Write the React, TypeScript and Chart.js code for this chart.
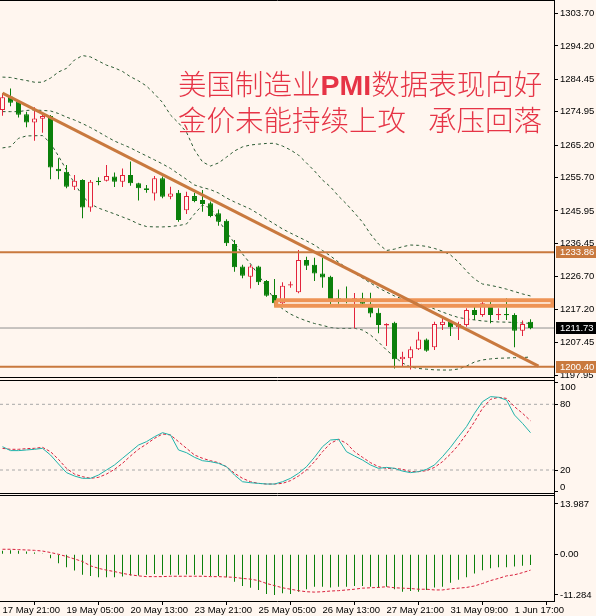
import React, { useEffect, useRef } from 'react';
import { Chart, registerables } from 'chart.js';

Chart.register(...registerables);

// ---------------- data ----------------
const TIMES = [
  '17 May 21:00', '18 May 01:00', '18 May 05:00', '18 May 09:00', '18 May 13:00', '18 May 17:00', '18 May 21:00', '19 May 01:00',
  '19 May 05:00', '19 May 09:00', '19 May 13:00', '19 May 17:00', '19 May 21:00', '20 May 01:00', '20 May 05:00', '20 May 09:00',
  '20 May 13:00', '20 May 17:00', '20 May 21:00', '23 May 01:00', '23 May 05:00', '23 May 09:00', '23 May 13:00', '23 May 17:00',
  '23 May 21:00', '24 May 01:00', '24 May 05:00', '24 May 09:00', '24 May 13:00', '24 May 17:00', '24 May 21:00', '25 May 01:00',
  '25 May 05:00', '25 May 09:00', '25 May 13:00', '25 May 17:00', '25 May 21:00', '26 May 01:00', '26 May 05:00', '26 May 09:00',
  '26 May 13:00', '26 May 17:00', '26 May 21:00', '27 May 01:00', '27 May 05:00', '27 May 09:00', '27 May 13:00', '27 May 17:00',
  '27 May 21:00', '30 May 05:00', '30 May 09:00', '30 May 13:00', '30 May 17:00', '30 May 21:00', '31 May 01:00', '31 May 05:00',
  '31 May 09:00', '31 May 13:00', '31 May 17:00', '31 May 21:00', '1 Jun 01:00', '1 Jun 05:00', '1 Jun 09:00', '1 Jun 13:00',
  '1 Jun 17:00', '1 Jun 21:00', '2 Jun 01:00',
];

const OPEN = [
  1275.5, 1279.4, 1278.0, 1274.2, 1271.8, 1272.9, 1273.7, 1258.3, 1257.4, 1253.05,
  1255.0, 1247.0, 1254.8, 1254.8, 1256.0, 1254.5, 1256.5, 1254.05, 1252.6, 1251.1,
  1255.5, 1250.1, 1251.3, 1246.2, 1250.3, 1249.2, 1248.2, 1245.3, 1243.1, 1236.3,
  1229.7, 1226.7, 1229.7, 1225.5, 1221.4, 1219.0, 1224.2, 1222.2, 1231.6, 1230.2,
  1227.7, 1226.7, 1220.4, 1220.3, 1220.1, 1220.4, 1218.8, 1216.2, 1212.5, 1213.3,
  1202.6, 1202.9, 1205.5, 1208.4, 1206.1, 1212.6, 1213.6, 1211.95, 1212.6, 1217.0,
  1215.55, 1218.75, 1215.5, 1215.8, 1215.55, 1210.95, 1213.6,
];
const HIGH = [
  1280.4, 1281.8, 1278.4, 1275.0, 1276.3, 1274.0, 1274.0, 1261.4, 1259.4, 1256.5,
  1255.2, 1255.0, 1255.8, 1259.4, 1257.2, 1258.4, 1260.4, 1254.2, 1253.55, 1256.2,
  1256.0, 1253.05, 1252.1, 1251.6, 1251.3, 1252.1, 1248.7, 1246.4, 1243.5, 1237.5,
  1230.2, 1230.2, 1229.95, 1225.8, 1226.1, 1225.1, 1225.3, 1234.55, 1232.6, 1232.3,
  1232.3, 1227.0, 1223.0, 1223.9, 1222.0, 1222.05, 1222.05, 1217.5, 1213.1, 1213.6,
  1204.8, 1206.3, 1210.65, 1208.7, 1213.6, 1215.0, 1214.05, 1213.6, 1217.5, 1218.0,
  1219.4, 1219.7, 1217.5, 1220.4, 1216.05, 1213.9, 1214.3,
];
const LOW = [
  1273.8, 1276.6, 1273.3, 1270.4, 1266.5, 1268.8, 1255.2, 1255.2, 1252.6, 1252.1,
  1243.8, 1245.7, 1253.5, 1254.6, 1253.0, 1253.0, 1253.3, 1249.0, 1251.3, 1249.0,
  1249.7, 1249.4, 1242.8, 1245.1, 1248.5, 1245.7, 1244.1, 1241.6, 1235.7, 1228.2,
  1226.3, 1223.3, 1224.3, 1220.9, 1218.0, 1218.0, 1223.5, 1221.9, 1228.7, 1225.5,
  1223.5, 1218.5, 1218.8, 1219.0, 1211.65, 1218.5, 1214.9, 1210.2, 1206.5, 1199.9,
  1200.4, 1199.6, 1205.3, 1204.8, 1205.3, 1211.15, 1209.4, 1208.2, 1212.1, 1214.05,
  1215.05, 1213.1, 1214.05, 1214.05, 1206.1, 1209.4, 1211.4,
];
const CLOSE = [
  1279.2, 1277.6, 1274.1, 1271.8, 1273.0, 1273.7, 1258.7, 1257.6, 1253.05, 1254.8,
  1247.0, 1254.5, 1254.4, 1256.2, 1254.5, 1256.5, 1254.05, 1252.6, 1252.1, 1255.5,
  1250.1, 1251.1, 1243.3, 1250.3, 1248.9, 1248.0, 1244.5, 1242.8, 1236.5, 1229.5,
  1227.0, 1229.7, 1225.1, 1221.2, 1219.0, 1224.1, 1224.5, 1231.6, 1229.95, 1227.7,
  1226.5, 1220.2, 1220.1, 1219.9, 1220.4, 1218.8, 1216.0, 1212.6, 1212.9, 1202.6,
  1203.35, 1205.5, 1208.4, 1205.1, 1212.9, 1213.6, 1211.95, 1212.9, 1217.0, 1215.55,
  1218.95, 1215.55, 1215.8, 1215.5, 1210.95, 1212.9, 1211.73,
];

const BB_UPPER = [
  1285.1, 1285.0, 1284.5, 1284.1, 1283.6, 1283.6, 1284.8, 1286.6, 1287.65, 1290.1,
  1291.4, 1291.0, 1289.8, 1288.6, 1287.8, 1286.75, 1285.2, 1284.0, 1282.5, 1280.2,
  1277.7, 1274.0, 1271.7, 1269.0, 1263.8, 1260.3, 1259.1, 1260.0, 1261.7, 1263.5,
  1264.7, 1265.25, 1265.5, 1265.7, 1265.75, 1264.95, 1263.8, 1262.3, 1260.0, 1257.65,
  1255.0, 1253.0, 1250.3, 1248.0, 1245.4, 1242.7, 1239.2, 1236.3, 1234.4, 1234.8,
  1235.5, 1236.0, 1235.9, 1235.6, 1235.0, 1234.25, 1233.1, 1231.0, 1228.4, 1226.05,
  1224.6, 1224.2, 1223.7, 1223.1, 1222.4, 1221.7, 1221.1,
];
const BB_MIDDLE = [
  1275.0, 1275.0, 1275.0, 1275.35, 1275.5, 1275.35, 1275.2, 1274.45, 1273.4, 1272.55,
  1271.5, 1270.35, 1269.05, 1267.7, 1266.4, 1265.4, 1264.4, 1263.2, 1262.05, 1260.9,
  1259.7, 1258.4, 1256.8, 1255.2, 1253.55, 1252.8, 1252.2, 1251.2, 1249.75, 1248.6,
  1247.55, 1246.5, 1245.1, 1243.6, 1242.15, 1240.7, 1239.5, 1238.35, 1237.2, 1236.0,
  1234.4, 1232.8, 1231.0, 1229.3, 1227.8, 1226.35, 1224.9, 1223.45, 1222.25, 1221.1,
  1220.2, 1219.6, 1218.9, 1218.2, 1217.3, 1216.4, 1215.55, 1214.8, 1214.4, 1214.1,
  1213.8, 1213.65, 1213.5, 1213.45, 1213.35, 1213.2, 1213.1,
];
const BB_LOWER = [
  1264.4, 1264.75, 1267.2, 1267.9, 1267.95, 1268.0, 1265.8, 1262.0, 1257.9, 1254.1,
  1250.3, 1248.0, 1246.8, 1245.95, 1245.1, 1244.2, 1243.3, 1242.15, 1241.4, 1241.3,
  1241.3, 1241.4, 1241.7, 1242.15, 1245.1, 1247.7, 1246.8, 1243.3, 1239.8, 1236.6,
  1233.4, 1230.5, 1227.2, 1223.7, 1219.9, 1217.3, 1215.8, 1214.7, 1213.8, 1213.05,
  1212.5, 1211.9, 1211.6, 1211.6, 1211.65, 1211.15, 1209.7, 1207.65, 1205.3, 1203.3,
  1201.5, 1200.35, 1199.9, 1199.7, 1199.5, 1199.45, 1199.45, 1199.75, 1200.6, 1201.8,
  1202.4, 1202.7, 1202.9, 1202.95, 1203.05, 1203.1, 1203.25,
];

const STOCH_K = [
  41.3, 37.7, 37.7, 38.3, 38.9, 39.8, 33.7, 25.5, 17.6, 14.5,
  12.4, 12.4, 15.4, 20.0, 24.6, 30.7, 36.7, 42.8, 45.9, 50.4,
  54.1, 52.0, 38.3, 35.8, 31.6, 28.5, 27.6, 26.1, 23.0, 15.4,
  9.3, 8.4, 7.8, 7.2, 7.2, 9.3, 12.4, 17.0, 23.0, 31.6,
  41.3, 47.4, 48.0, 36.7, 32.8, 29.1, 24.6, 21.5, 22.4, 21.5,
  19.0, 17.6, 18.5, 20.6, 24.6, 32.2, 40.7, 50.4, 59.6, 71.8,
  82.4, 87.0, 86.4, 83.9, 70.2, 62.6, 54.1,
];
const STOCH_D = [
  39.8, 38.9, 38.9, 39.5, 39.8, 40.7, 36.7, 29.7, 21.5, 16.3,
  13.9, 12.4, 13.3, 16.3, 20.6, 26.1, 32.8, 38.9, 43.7, 48.9,
  52.9, 52.0, 45.9, 39.8, 33.7, 30.7, 28.5, 26.7, 23.0, 17.0,
  12.4, 9.3, 7.8, 7.2, 7.2, 7.8, 10.3, 14.5, 20.0, 27.6,
  36.7, 44.4, 48.0, 44.4, 36.7, 31.6, 26.7, 23.0, 21.5, 21.5,
  20.6, 18.5, 18.5, 19.4, 22.4, 27.6, 34.6, 42.8, 52.9, 64.1,
  76.3, 84.5, 86.4, 85.4, 77.8, 71.8, 65.0,
];
const STOCH_LEVELS = [80, 20];

const MACD_HIST = [
  1.0, 1.1, 1.0, 0.8, 0.5, 0.1, -1.1, -2.5, -3.6, -4.5,
  -5.7, -6.0, -6.4, -6.4, -6.4, -6.2, -5.9, -5.9, -5.7, -5.5,
  -5.7, -5.7, -5.7, -5.6, -5.7, -5.7, -6.0, -6.0, -6.4, -7.6,
  -8.8, -9.3, -9.9, -11.0, -11.28, -10.8, -11.0, -10.4, -9.7, -9.0,
  -9.0, -9.2, -9.0, -9.0, -8.8, -8.8, -9.0, -9.3, -9.0, -9.7,
  -10.4, -10.2, -10.4, -9.9, -9.2, -9.0, -7.9, -7.1, -6.4, -5.3,
  -4.4, -3.9, -3.6, -3.6, -3.4, -3.2, -3.0,
];
const MACD_SIGNAL = [
  1.4, 1.4, 1.3, 1.2, 1.1, 0.9, 0.5, 0.0, -0.6, -1.3,
  -2.0, -3.2, -3.9, -4.4, -4.8, -5.3, -5.7, -6.0, -6.2, -6.2,
  -6.2, -6.1, -6.1, -6.1, -6.1, -6.1, -6.2, -6.2, -6.3, -6.4,
  -6.7, -6.9, -7.3, -8.1, -8.7, -9.3, -9.7, -10.1, -10.4, -10.5,
  -10.4, -10.2, -10.1, -9.9, -9.7, -9.4, -9.3, -9.2, -9.0, -9.3,
  -9.4, -9.5, -9.7, -9.7, -9.9, -9.9, -9.6, -9.4, -9.2, -8.8,
  -8.1, -7.3, -6.7, -6.0, -5.7, -5.1, -4.4,
];

const PRICE_TICKS = [1303.7, 1294.2, 1284.45, 1274.95, 1265.2, 1255.7, 1245.95, 1236.45, 1226.7, 1217.2, 1207.45, 1197.95];
const STOCH_TICKS = [100, 80, 20, 0];
const MACD_TICKS = [13.987, 0, -11.284];
const X_TICKS = [0, 8, 16, 24, 32, 40, 48, 56, 64];

const H_LINES = [1233.86, 1200.4];
const TREND_X = [0, 67];
const TREND_Y = [1280.4, 1200.6];
const RECT_X = [34.2, 68.75];
const RECT_Y = [1218.26, 1219.84];

const TITLE_1 = ['美国制造业', 'PMI', '数据表现向好'];
const TITLE_2 = ['金价未能持续上攻', '承压回落'];

// ---------------- style / layout ----------------
const BG = '#FFF6EF';
const RED = '#E2243C';
const GREEN = '#0B800B';
const BAND = '#2A5A32';
const ORANGE = '#C9793E';
const RECT_ORANGE = '#EE9456';
const TEAL = '#20B2AA';
const SIG_RED = '#D8203C';
const LEVEL_GRAY = '#A8A8A8';
const BID_GRAY = '#909090';
const TITLE_RED = '#E63446';
const FONT = 'Liberation Sans';
const FSIZE = 9.5;

const W = 596;
const AXIS_W = 42;
const X_MIN = -0.3125;
const X_MAX = X_MIN + (W - AXIS_W) / 8;

const PRICE_MIN = 1197.41;
const PRICE_MAX = 1307.35;
const STOCH_MIN = -1.0;
const STOCH_MAX = 101.28;
const MACD_MIN = -12.97;
const MACD_MAX = 16.19;

const IDX = OPEN.map((_, i) => i);
const isBull = (i: number) => CLOSE[i] >= OPEN[i];

const lineDs = (data: any[], color: string, width: number, dash: number[], order: number) => ({
  type: 'line',
  data,
  borderColor: color,
  borderWidth: width,
  borderDash: dash,
  pointRadius: 0,
  pointHoverRadius: 0,
  fill: false,
  tension: 0,
  order,
  borderJoinStyle: 'miter',
});

const series = (arr: number[]) => arr.map((v, i) => ({ x: i, y: v }));
const hline = (v: number) => [{ x: X_MIN, y: v }, { x: X_MAX, y: v }];

const xScale = (display: boolean) => ({
  type: 'linear',
  display,
  min: X_MIN,
  max: X_MAX,
  bounds: 'data',
  offset: false,
  grid: { display: true, drawOnChartArea: false, drawTicks: true, tickLength: 4, color: '#000' },
  border: { display: false },
  ticks: {
    autoSkip: false,
    maxRotation: 0,
    minRotation: 0,
    align: 'start',
    padding: 0,
    color: '#000',
    font: { family: FONT, size: FSIZE },
    callback: (v: number) => TIMES[v] ?? '',
  },
  afterBuildTicks: (s: any) => {
    s.ticks = X_TICKS.map((v) => ({ value: v }));
  },
  afterFit: (s: any) => {
    s.height = display ? 15 : 0;
    s.paddingLeft = 0;
    s.paddingRight = 0;
  },
});

const yScale = (min: number, max: number, ticks: number[], cb: (v: number) => any, lineHeight = 1.2) => ({
  type: 'linear',
  position: 'right',
  min,
  max,
  bounds: 'data',
  grid: { display: true, drawOnChartArea: false, drawTicks: true, tickLength: 4, color: '#000' },
  border: { display: false },
  ticks: {
    autoSkip: false,
    padding: 2,
    color: '#000',
    font: { family: FONT, size: FSIZE, lineHeight },
    callback: cb,
  },
  afterBuildTicks: (s: any) => {
    s.ticks = ticks.map((v) => ({ value: v }));
  },
  afterFit: (s: any) => {
    s.width = AXIS_W;
    s.paddingTop = 0;
    s.paddingBottom = 0;
  },
});

const framePlugin = (extendBottom: boolean) => ({
  id: 'frame',
  afterDraw(chart: any) {
    const { ctx, chartArea: a } = chart;
    ctx.save();
    ctx.strokeStyle = '#000';
    ctx.lineWidth = 1;
    ctx.beginPath();
    ctx.moveTo(0, a.top - 0.5);
    ctx.lineTo(a.right + 1, a.top - 0.5);
    ctx.moveTo(0, a.bottom + 0.5);
    ctx.lineTo(a.right + 1, a.bottom + 0.5);
    ctx.moveTo(a.right + 0.5, 0);
    ctx.lineTo(a.right + 0.5, extendBottom ? chart.height : a.bottom + 1);
    ctx.stroke();
    ctx.restore();
  },
});

const mainOverlay = {
  id: 'mainOverlay',
  afterDraw(chart: any) {
    const { ctx, chartArea: a } = chart;
    const y = chart.scales.y;
    ctx.save();
    ctx.font = `${FSIZE}px '${FONT}'`;
    ctx.textBaseline = 'middle';
    ctx.textAlign = 'left';
    const tag = (v: number, bg: string) => {
      const py = y.getPixelForValue(v);
      ctx.fillStyle = bg;
      ctx.fillRect(a.right + 2, Math.round(py) - 6, W - a.right - 2, 12);
      ctx.fillStyle = '#fff';
      ctx.fillText(v.toFixed(2), a.right + 6, py + 0.5);
    };
    H_LINES.forEach((v) => tag(v, ORANGE));
    tag(CLOSE[CLOSE.length - 1], '#000');

    // title text
    ctx.fillStyle = TITLE_RED;
    ctx.textBaseline = 'alphabetic';
    const cjk = "300 28.5px 'Noto Sans CJK SC'";
    const bold = `bold 28.5px '${FONT}'`;
    let x = 178;
    [[TITLE_1[0], cjk], [TITLE_1[1], bold], [TITLE_1[2], cjk]].forEach(([t, f]) => {
      ctx.font = f;
      ctx.fillText(t, x, 94.5);
      x += ctx.measureText(t).width;
    });
    ctx.font = cjk;
    ctx.fillText(TITLE_2[0], 178, 131);
    const w0 = ctx.measureText(TITLE_2[0]).width;
    ctx.fillText(TITLE_2[1], 178 + w0 + 22, 131);
    ctx.restore();
  },
};

const baseOptions = (padding: any) => ({
  responsive: false,
  animation: false,
  devicePixelRatio: 1,
  events: [],
  layout: { padding, autoPadding: false },
  plugins: { legend: { display: false }, tooltip: { enabled: false } },
});

export default function App() {
  const r1 = useRef<HTMLCanvasElement>(null);
  const r2 = useRef<HTMLCanvasElement>(null);
  const r3 = useRef<HTMLCanvasElement>(null);

  useEffect(() => {
    document.body.style.margin = '0';
    document.body.style.background = BG;

    const main = new Chart(r1.current as HTMLCanvasElement, {
      type: 'bar',
      data: {
        datasets: [
          {
            type: 'bar',
            data: IDX.map((i) => ({ x: i, y: [LOW[i], HIGH[i]] })),
            backgroundColor: IDX.map((i) => (isBull(i) ? RED : GREEN)),
            borderWidth: 0,
            barThickness: 1,
            grouped: false,
            inflateAmount: 0,
            minBarLength: 1,
            order: 8,
          },
          {
            type: 'bar',
            data: IDX.map((i) => ({ x: i, y: [OPEN[i], CLOSE[i]] })),
            backgroundColor: IDX.map((i) => (isBull(i) ? BG : GREEN)),
            borderColor: IDX.map((i) => (isBull(i) ? RED : GREEN)),
            borderWidth: 1,
            borderSkipped: false,
            barThickness: 5,
            grouped: false,
            inflateAmount: 0,
            minBarLength: 1,
            order: 7,
          },
          lineDs(series(BB_UPPER), BAND, 1, [3, 3], 10),
          lineDs(series(BB_MIDDLE), BAND, 1, [3, 3], 10),
          lineDs(series(BB_LOWER), BAND, 1, [3, 3], 10),
          lineDs(hline(CLOSE[CLOSE.length - 1]), BID_GRAY, 1, [], 9),
          ...H_LINES.map((v) => lineDs(hline(v), ORANGE, 2, [], 3)),
          lineDs(
            [
              { x: RECT_X[0], y: RECT_Y[1] },
              { x: RECT_X[1], y: RECT_Y[1] },
              { x: RECT_X[1], y: RECT_Y[0] },
              { x: RECT_X[0], y: RECT_Y[0] },
              { x: RECT_X[0], y: RECT_Y[1] },
            ],
            RECT_ORANGE,
            4,
            [],
            2,
          ),
          lineDs(
            TREND_X.map((x, i) => ({ x, y: TREND_Y[i] })),
            ORANGE,
            3,
            [],
            1,
          ),
        ] as any,
      },
      options: {
        ...baseOptions({ top: 1, bottom: 2, left: 0, right: 0 }),
        scales: {
          x: xScale(false),
          y: yScale(PRICE_MIN, PRICE_MAX, PRICE_TICKS, (v: number) => Number(v).toFixed(2)),
        },
      } as any,
      plugins: [framePlugin(true), mainOverlay],
    });

    const stoch = new Chart(r2.current as HTMLCanvasElement, {
      type: 'line',
      data: {
        datasets: [
          ...STOCH_LEVELS.map((v) => lineDs(hline(v), LEVEL_GRAY, 1, [3, 3], 5)),
          lineDs(series(STOCH_D), SIG_RED, 1, [3, 2], 2),
          lineDs(series(STOCH_K), TEAL, 1, [], 1),
        ] as any,
      },
      options: {
        ...baseOptions({ top: 2, bottom: 2, left: 0, right: 0 }),
        scales: {
          x: xScale(false),
          y: yScale(
            STOCH_MIN,
            STOCH_MAX,
            STOCH_TICKS,
            (v: number) => (v === 100 ? ['', '100'] : v === 0 ? ['0', ''] : String(v)),
            1,
          ),
        },
      } as any,
      plugins: [framePlugin(true)],
    });

    const macd = new Chart(r3.current as HTMLCanvasElement, {
      type: 'bar',
      data: {
        datasets: [
          {
            type: 'bar',
            data: series(MACD_HIST),
            backgroundColor: GREEN,
            borderWidth: 0,
            barThickness: 1,
            grouped: false,
            inflateAmount: 0,
            order: 2,
          },
          lineDs(series(MACD_SIGNAL), SIG_RED, 1, [3, 2], 1),
        ] as any,
      },
      options: {
        ...baseOptions({ top: 1, bottom: 0, left: 0, right: 0 }),
        scales: {
          x: xScale(true),
          y: yScale(MACD_MIN, MACD_MAX, MACD_TICKS, (v: number) => (v === 0 ? '0.00' : String(v))),
        },
      } as any,
      plugins: [framePlugin(false)],
    });

    return () => {
      main.destroy();
      stoch.destroy();
      macd.destroy();
    };
  }, []);

  const cs = (top: number, h: number): React.CSSProperties => ({
    position: 'absolute',
    left: 0,
    top,
    width: W,
    height: h,
  });

  return (
    <div style={{ position: 'relative', width: W, height: 616, background: BG, overflow: 'hidden' }}>
      <canvas ref={r1} width={W} height={379} style={cs(0, 379)} />
      <canvas ref={r2} width={W} height={116} style={cs(379, 116)} />
      <canvas ref={r3} width={W} height={121} style={cs(495, 121)} />
    </div>
  );
}
